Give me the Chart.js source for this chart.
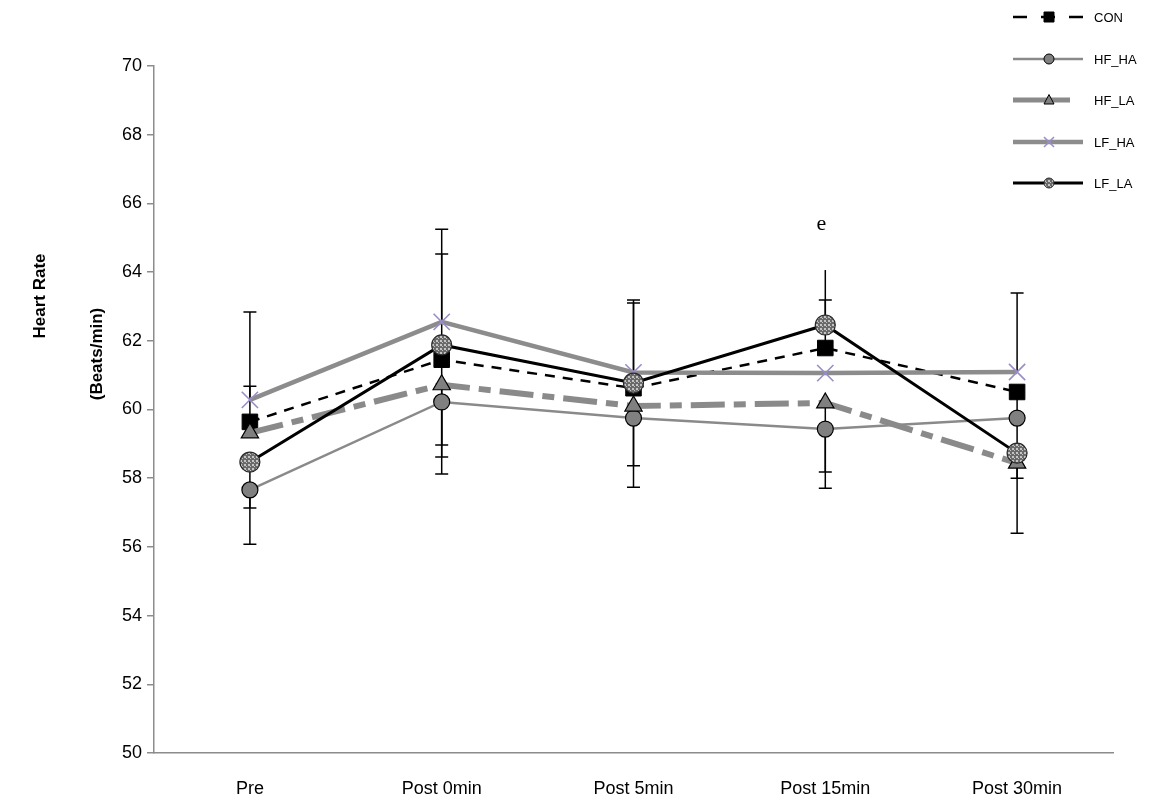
<!DOCTYPE html>
<html>
<head>
<meta charset="utf-8">
<script src="https://cdn.jsdelivr.net/npm/chart.js@4.4.1/dist/chart.umd.min.js"></script>
<style>
  html, body { margin: 0; padding: 0; background: #ffffff; }
  #wrap { width: 1156px; height: 800px; }
</style>
</head>
<body>
<div id="wrap"><canvas id="hr" width="1156" height="800"></canvas></div>
<script>
// Time points
const categories = ['Pre', 'Post 0min', 'Post 5min', 'Post 15min', 'Post 30min'];

// Group means (beats/min)
const con  = [59.64, 61.45, 60.62, 61.79, 60.51];
const hfHa = [57.66, 60.22, 59.75, 59.43, 59.75];
const hfLa = [59.32, 60.72, 60.10, 60.19, 58.44];
const lfHa = [60.28, 62.55, 61.08, 61.06, 61.09];
const lfLa = [58.47, 61.88, 60.77, 62.46, 58.73];

// One-sided error bars (null = not shown)
const conErrUp    = [1.04, null, null, 1.40, null];
const conErrDown  = [null, 2.48, null, null, 4.11];
const hfHaErrUp   = [null, null, null, null, null];
const hfHaErrDown = [1.58, 2.10, 2.01, 1.72, null];
const hfLaErrUp   = [null, null, null, null, null];
const hfLaErrDown = [null, 2.10, 1.74, 2.01, null];
const lfHaErrUp   = [2.56, 2.70, 2.11, null, 2.30];
const lfHaErrDown = [null, null, null, null, null];
const lfLaErrUp   = [null, 2.65, 2.33, 1.60, null];
const lfLaErrDown = [1.34, null, null, null, 0.73];
// whisker ends drawn without a cap
const lfLaNoCapUp = [false, false, false, true, false];

// Y axis range and tick step
const yMin = 50, yMax = 70, yStep = 2;

// Significance mark
const marks = [{ text: 'e', index: 3, value: 65.4 }];

const FONT = '"Liberation Sans", Arial, sans-serif';

// dotted fill for the LF_LA markers
function dotPattern() {
  const c = document.createElement('canvas');
  c.width = 4; c.height = 4;
  const g = c.getContext('2d');
  g.fillStyle = '#6a6a6a';
  g.fillRect(0, 0, 4, 4);
  g.fillStyle = '#c4c4c4';
  g.fillRect(0, 0, 2, 2);
  g.fillRect(2, 2, 1, 1);
  return g.createPattern(c, 'repeat');
}
const dots = dotPattern();

const datasets = [
  { label: 'CON', data: con, errUp: conErrUp, errDown: conErrDown,
    borderColor: '#000000', borderWidth: 2.5, borderDash: [10, 8],
    pointStyle: 'rect', pointRadius: 11, pointBackgroundColor: '#000000',
    pointBorderColor: '#000000', pointBorderWidth: 1, order: 5 },
  { label: 'HF_HA', data: hfHa, errUp: hfHaErrUp, errDown: hfHaErrDown,
    borderColor: '#8a8a8a', borderWidth: 2.5, borderDash: [],
    pointStyle: 'circle', pointRadius: 8, pointBackgroundColor: '#808080',
    pointBorderColor: '#000000', pointBorderWidth: 1.2, order: 4 },
  { label: 'HF_LA', data: hfLa, errUp: hfLaErrUp, errDown: hfLaErrDown,
    borderColor: '#8a8a8a', borderWidth: 6, borderDash: [34, 9, 12, 9],
    pointStyle: 'triangle', pointRadius: 10, pointBackgroundColor: '#808080',
    pointBorderColor: '#000000', pointBorderWidth: 1.2, order: 3 },
  { label: 'LF_HA', data: lfHa, errUp: lfHaErrUp, errDown: lfHaErrDown,
    borderColor: '#8c8c8c', borderWidth: 4.5, borderDash: [],
    pointStyle: 'crossRot', pointRadius: 11.5, pointBackgroundColor: '#9a8cc8',
    pointBorderColor: '#9a8cc8', pointBorderWidth: 1.6, order: 2 },
  { label: 'LF_LA', data: lfLa, errUp: lfLaErrUp, errDown: lfLaErrDown, noCapUp: lfLaNoCapUp,
    borderColor: '#000000', borderWidth: 3, borderDash: [],
    pointStyle: 'circle', pointRadius: 10, pointBackgroundColor: dots,
    pointBorderColor: '#2a2a2a', pointBorderWidth: 1.2, order: 1 }
];

// whiskers drawn behind the lines and markers
const errorBars = {
  id: 'errorBars',
  beforeDatasetsDraw(chart) {
    const { ctx, scales: { x, y } } = chart;
    ctx.save();
    ctx.strokeStyle = '#000000';
    ctx.lineWidth = 1.5;
    const cap = 6.5;
    chart.data.datasets.forEach(ds => {
      ds.data.forEach((v, i) => {
        const px = x.getPixelForValue(i);
        const py = y.getPixelForValue(v);
        [[ds.errUp, 1, ds.noCapUp], [ds.errDown, -1, null]].forEach(([arr, dir, noCap]) => {
          const e = arr && arr[i];
          if (e == null) return;
          const ey = y.getPixelForValue(v + dir * e);
          ctx.beginPath();
          ctx.moveTo(px, py); ctx.lineTo(px, ey);
          if (!(noCap && noCap[i])) {
            ctx.moveTo(px - cap, ey); ctx.lineTo(px + cap, ey);
          }
          ctx.stroke();
        });
      });
    });
    ctx.restore();
  }
};

// marker sample used in the legend
function drawMarker(ctx, ds, cx, cy, r) {
  ctx.save();
  ctx.fillStyle = ds.pointBackgroundColor;
  ctx.strokeStyle = ds.pointBorderColor;
  ctx.lineWidth = 1;
  ctx.beginPath();
  if (ds.pointStyle === 'rect') {
    ctx.rect(cx - r, cy - r, 2 * r, 2 * r); ctx.fill(); ctx.stroke();
  } else if (ds.pointStyle === 'circle') {
    ctx.arc(cx, cy, r, 0, Math.PI * 2); ctx.fill(); ctx.stroke();
  } else if (ds.pointStyle === 'triangle') {
    ctx.moveTo(cx, cy - r * 1.1); ctx.lineTo(cx + r, cy + r * 0.8); ctx.lineTo(cx - r, cy + r * 0.8);
    ctx.closePath(); ctx.fill(); ctx.stroke();
  } else if (ds.pointStyle === 'crossRot') {
    ctx.lineWidth = 1.5;
    ctx.moveTo(cx - r, cy - r); ctx.lineTo(cx + r, cy + r);
    ctx.moveTo(cx + r, cy - r); ctx.lineTo(cx - r, cy + r); ctx.stroke();
  }
  ctx.restore();
}

const extras = {
  id: 'extras',
  afterDraw(chart) {
    const { ctx, scales: { x, y } } = chart;
    // legend: line sample with marker, then label
    const rows = [17, 59, 100, 142, 183];
    chart.data.datasets.forEach((ds, k) => {
      const cy = rows[k];
      ctx.save();
      ctx.strokeStyle = ds.borderColor;
      ctx.lineWidth = Math.min(ds.borderWidth, 5);
      ctx.lineCap = 'butt';
      ctx.setLineDash(ds.label === 'CON' ? [14, 14] : []);
      ctx.beginPath();
      const x1 = 1013, x2 = ds.label === 'HF_LA' ? 1070 : 1083;
      ctx.moveTo(x1, cy); ctx.lineTo(x2, cy); ctx.stroke();
      ctx.restore();
      drawMarker(ctx, ds, 1049, cy, ds.label === 'CON' ? 5 : 5);
      ctx.save();
      ctx.fillStyle = '#000000';
      ctx.font = '13px ' + FONT;
      ctx.textBaseline = 'middle';
      ctx.fillText(ds.label, 1094, cy + 1);
      ctx.restore();
    });
    // significance mark
    marks.forEach(m => {
      ctx.save();
      ctx.fillStyle = '#000000';
      ctx.font = '22px "Liberation Serif", "Times New Roman", serif';
      ctx.textAlign = 'center';
      ctx.textBaseline = 'middle';
      ctx.fillText(m.text, x.getPixelForValue(m.index) - 4, y.getPixelForValue(m.value));
      ctx.restore();
    });
    // y axis title, two lines
    ctx.save();
    ctx.fillStyle = '#000000';
    ctx.font = 'bold 17px ' + FONT;
    ctx.textAlign = 'center';
    ctx.textBaseline = 'middle';
    ctx.translate(40, 296);
    ctx.rotate(-Math.PI / 2);
    ctx.fillText('Heart Rate', 0, 0);
    ctx.restore();
    ctx.save();
    ctx.fillStyle = '#000000';
    ctx.font = 'bold 17px ' + FONT;
    ctx.textAlign = 'center';
    ctx.textBaseline = 'middle';
    ctx.translate(97, 354);
    ctx.rotate(-Math.PI / 2);
    ctx.fillText('(Beats/min)', 0, 0);
    ctx.restore();
  }
};

new Chart(document.getElementById('hr'), {
  type: 'line',
  data: {
    labels: categories,
    datasets: datasets.map(d => Object.assign({ fill: false, tension: 0 }, d))
  },
  options: {
    responsive: false,
    animation: false,
    devicePixelRatio: 1,
    layout: { padding: { top: 66, right: 43, bottom: 0, left: 0 } },
    plugins: { legend: { display: false }, tooltip: { enabled: false } },
    scales: {
      x: {
        type: 'category',
        offset: true,
        grid: { display: false, drawTicks: false },
        border: { display: true, color: '#8c8c8c', width: 1.5 },
        ticks: { color: '#000000', font: { family: FONT, size: 18 }, padding: 25, maxRotation: 0 },
        afterFit(s) { s.height = 47; }
      },
      y: {
        min: yMin, max: yMax,
        grid: { display: true, drawOnChartArea: false, drawTicks: true, tickLength: 7, color: '#8c8c8c', lineWidth: 1.5 },
        border: { display: true, color: '#8c8c8c', width: 1.5 },
        ticks: { stepSize: yStep, color: '#000000', font: { family: FONT, size: 18 }, padding: 5 },
        afterFit(s) { s.width = 154; }
      }
    }
  },
  plugins: [errorBars, extras]
});
</script>
</body>
</html>
